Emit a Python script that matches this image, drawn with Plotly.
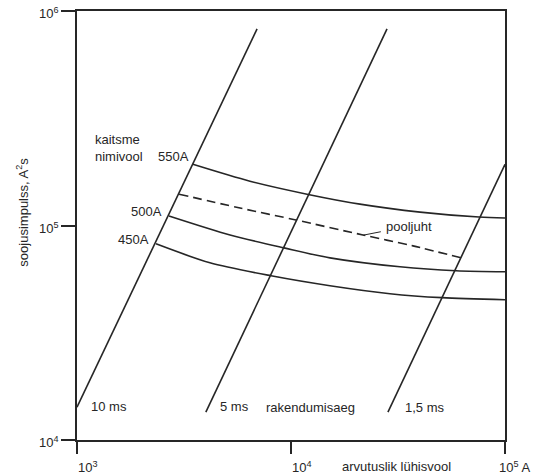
import plotly.graph_objects as go

# ---- data (A, A^2 s) ----
ms10_x = [1000, 6940]
ms10_y = [14230, 825000]
ms5_x = [4000, 28100]
ms5_y = [13490, 825000]
ms15_x = [28380, 100000]
ms15_y = [13490, 192900]

a550_x = [3480, 6430, 11880, 20990, 40090, 75610, 100000]
a550_y = [192900, 160900, 140000, 125800, 115500, 109500, 108300]

pool_x = [3000, 5780, 10550, 21680, 37150, 62260]
pool_y = [140000, 120600, 106100, 90300, 80350, 70670]

a500_x = [2690, 5190, 9280, 15210, 32300, 59060, 100000]
a500_y = [110700, 90300, 78640, 70670, 64190, 61500, 60840]

a450_x = [2340, 4180, 8070, 15210, 29000, 50800, 100000]
a450_y = [82100, 66990, 58300, 52400, 48100, 46090, 45100]

x_ticks = [1e3, 1e4, 1e5]
x_tick_text = ["10<sup>3</sup>", "10<sup>4</sup>", "10<sup>5</sup> A"]
y_ticks = [1e4, 1e5, 1e6]
y_tick_text = ["10<sup>4</sup>", "10<sup>5</sup>", "10<sup>6</sup>"]

INK = "#262626"
FONT = "Liberation Sans, Arial, sans-serif"

fig = go.Figure()

def add_line(x, y, dash="solid", shape="linear"):
    fig.add_trace(go.Scatter(x=x, y=y, mode="lines",
                             line=dict(color=INK, width=1.6, dash=dash, shape=shape, smoothing=0.8),
                             showlegend=False, hoverinfo="skip"))

add_line(ms10_x, ms10_y)
add_line(ms5_x, ms5_y)
add_line(ms15_x, ms15_y)
add_line(a550_x, a550_y, shape="spline")
add_line(pool_x, pool_y, dash="9px,5px", shape="spline")
add_line(a500_x, a500_y, shape="spline")
add_line(a450_x, a450_y, shape="spline")

ann = []
def txt(x, y, t, anchor="center", size=13):
    ann.append(dict(x=x, y=y, xref="x", yref="y", text=t, showarrow=False,
                    xanchor=anchor, yanchor="middle", font=dict(size=size, color=INK, family=FONT)))

txt(3.075, 5.401, "kaitsme", "left")
txt(3.075, 5.3225, "nimivool", "left")
txt(3.449, 5.3225, "550A")
txt(3.327, 5.067, "500A")
txt(3.266, 4.933, "450A")
txt(3.150, 4.158, "10 ms")
txt(3.738, 4.158, "5 ms")
txt(4.093, 4.153, "rakendumisaeg")
txt(4.626, 4.153, "1,5 ms")

# pooljuht with leader line
ann.append(dict(x=4.338, y=4.955, xref="x", yref="y", text="pooljuht",
                showarrow=True, arrowhead=0, arrowwidth=1, arrowcolor=INK,
                ax=46, ay=-9, borderpad=5,
                font=dict(size=13, color=INK, family=FONT)))

# tick labels
xpos = [3, 4, 5]
xshifts = [-1, -1, -8]
for xv, t, xs in zip(xpos, x_tick_text, xshifts):
    ann.append(dict(x=xv, y=0, xref="x", yref="paper", text=t, showarrow=False,
                    xanchor="left", yanchor="top", yshift=-17, xshift=xs,
                    font=dict(size=13, color=INK, family=FONT)))
for yv, t in zip([4, 5, 6], y_tick_text):
    ann.append(dict(x=0, y=yv, xref="paper", yref="y", text=t, showarrow=False,
                    xanchor="right", yanchor="middle", xshift=-16, yshift=-2,
                    font=dict(size=13, color=INK, family=FONT)))

# axis titles
ann.append(dict(x=4.495, y=0, xref="x", yref="paper", text="arvutuslik lühisvool",
                showarrow=False, xanchor="center", yanchor="top", yshift=-17,
                font=dict(size=13, color=INK, family=FONT)))
ann.append(dict(x=-0.1285, y=0.53, xref="paper", yref="paper", text="soojusimpulss, A<sup>2</sup>s",
                showarrow=False, textangle=-90, xanchor="center", yanchor="middle",
                font=dict(size=13, color=INK, family=FONT)))

fig.update_layout(
    width=534, height=474,
    margin=dict(l=77, r=29, t=9, b=34),
    paper_bgcolor="white", plot_bgcolor="white",
    annotations=ann,
    xaxis=dict(type="log", range=[3, 5], showgrid=False, zeroline=False,
               showline=True, mirror=True, linecolor=INK, linewidth=1.6,
               ticks="outside", ticklen=12, tickwidth=1.6, tickcolor=INK,
               tickvals=x_ticks, showticklabels=False),
    yaxis=dict(type="log", range=[4, 6], showgrid=False, zeroline=False,
               showline=True, mirror=True, linecolor=INK, linewidth=1.6,
               ticks="outside", ticklen=14, tickwidth=1.6, tickcolor=INK,
               tickvals=y_ticks, showticklabels=False),
)

fig.write_html("out.html", config={"displayModeBar": False},
               post_script="document.body.style.margin='0px';document.body.style.padding='0px';")
